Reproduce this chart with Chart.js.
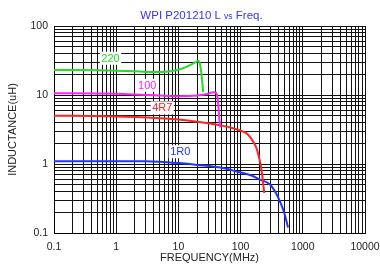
<!DOCTYPE html>
<html>
<head>
<meta charset="utf-8">
<script src="https://cdn.jsdelivr.net/npm/chart.js@4/dist/chart.umd.min.js"></script>
<style>
  html, body { margin: 0; padding: 0; background: #fff; }
  #wrap { width: 380px; height: 278px; }
</style>
</head>
<body>
<div id="wrap"><canvas id="lChart" width="380" height="278"></canvas></div>
<script>
// frequency (MHz) and inductance (uH)
const freq220 = [0.1, 0.5, 1, 2, 3, 5, 8, 12, 16, 19, 21, 22, 23.5, 25];
const ind220  = [23, 22.8, 22.5, 22, 21.6, 21.5, 22.3, 24.5, 27.5, 30, 31, 29, 20, 11];

const freq100 = [0.1, 0.5, 1, 2, 5, 10, 20, 30, 36, 40, 43, 45, 47];
const ind100  = [10.6, 10.5, 10.4, 10.2, 9.8, 9.6, 9.8, 10.4, 11, 10.8, 8.5, 5, 3.4];

const freq4R7 = [0.1, 0.5, 1, 2, 5, 10, 20, 50, 80, 100, 130, 160, 180, 200, 220, 240];
const ind4R7  = [5.0, 4.95, 4.9, 4.8, 4.6, 4.4, 4.1, 3.6, 3.25, 3.05, 2.7, 2.1, 1.7, 1.2, 0.75, 0.38];

const freq1R0 = [0.1, 1, 3, 5, 10, 20, 50, 90, 150, 200, 300, 400, 500, 580];
const ind1R0  = [1.1, 1.1, 1.1, 1.08, 1.03, 0.97, 0.88, 0.77, 0.68, 0.6, 0.5, 0.33, 0.2, 0.12];

const xTicks = [0.1, 1, 10, 100, 1000, 10000];
const yTicks = [0.1, 1, 10, 100];

// curve labels: [text, freq, inductance, colour]
const curveLabels = [
  ['220', 0.81, 33.5, '#22dd22'],
  ['100', 3.16, 13.6, '#ff22ff'],
  ['4R7', 5.5, 6.4, '#ff2222'],
  ['1R0', 10.7, 1.48, '#2233ff']
];

function pts(xs, ys) {
  return xs.map((x, i) => ({ x: x, y: ys[i] }));
}

// all 1..9 multiples between the first and last decade
function logTicks(decades) {
  const out = [];
  for (let i = 0; i < decades.length - 1; i++) {
    for (let m = 1; m < 10; m++) out.push({ value: +(decades[i] * m).toPrecision(3) });
  }
  out.push({ value: decades[decades.length - 1] });
  return out;
}

function isDecade(v, decades) {
  return decades.some(d => Math.abs(d - v) < d * 1e-6);
}

const font = 'Liberation Sans, Arial, sans-serif';

const labelPlugin = {
  id: 'curveLabels',
  afterDatasetsDraw(chart) {
    const ctx = chart.ctx;
    const xs = chart.scales.x, ys = chart.scales.y;
    ctx.save();
    ctx.font = '11px ' + font;
    ctx.textAlign = 'center';
    ctx.textBaseline = 'middle';
    curveLabels.forEach(l => {
      const px = xs.getPixelForValue(l[1]);
      const py = ys.getPixelForValue(l[2]);
      const w = ctx.measureText(l[0]).width + 3;
      ctx.fillStyle = '#fff';
      ctx.fillRect(px - w / 2, py - 7, w, 13);
      ctx.fillStyle = l[3];
      ctx.fillText(l[0], px, py);
    });
    ctx.restore();
  }
};

const titlePlugin = {
  id: 'mixedTitle',
  afterDraw(chart) {
    const ctx = chart.ctx;
    const a = chart.chartArea;
    const parts = [['WPI P201210 L ', 11.5], ['vs', 8.5], [' Freq.', 11.5]];
    ctx.save();
    ctx.fillStyle = '#3333ff';
    ctx.textBaseline = 'alphabetic';
    let total = 0;
    parts.forEach(p => { ctx.font = p[1] + 'px ' + font; total += ctx.measureText(p[0]).width; });
    let x = (a.left + a.right) / 2 - total / 2 - 8;
    parts.forEach(p => {
      ctx.font = p[1] + 'px ' + font;
      ctx.fillText(p[0], x, 19);
      x += ctx.measureText(p[0]).width;
    });
    ctx.restore();
  }
};

function renderChart() {
  const ctx = document.getElementById('lChart').getContext('2d');
  const common = { pointRadius: 0, borderWidth: 2, cubicInterpolationMode: 'monotone', fill: false };
  new Chart(ctx, {
    type: 'line',
    data: {
      datasets: [
        Object.assign({ label: '220', data: pts(freq220, ind220), borderColor: '#22dd22' }, common),
        Object.assign({ label: '100', data: pts(freq100, ind100), borderColor: '#ff22ff' }, common),
        Object.assign({ label: '4R7', data: pts(freq4R7, ind4R7), borderColor: '#ff2222' }, common),
        Object.assign({ label: '1R0', data: pts(freq1R0, ind1R0), borderColor: '#2233ff' }, common)
      ]
    },
    options: {
      responsive: false,
      animation: false,
      layout: { padding: { top: 26, right: 15, bottom: 0, left: 0 } },
      plugins: { legend: { display: false }, tooltip: { enabled: false }, title: { display: false } },
      scales: {
        x: {
          type: 'logarithmic',
          min: 0.1, max: 10000,
          afterBuildTicks: s => { s.ticks = logTicks(xTicks); },
          afterFit: s => { s.height = 45; s.paddingLeft = 0; s.paddingRight = 0; },
          grid: { color: '#111', lineWidth: 1, drawTicks: false },
          border: { color: '#000' },
          ticks: {
            autoSkip: false, maxRotation: 0, padding: 8, color: '#222',
            font: { family: font, size: 10.5 },
            callback: v => isDecade(v, xTicks) ? String(v) : ''
          },
          title: { display: true, text: 'FREQUENCY(MHz)', color: '#222', font: { family: font, size: 11 }, padding: { top: 2, bottom: 13 } }
        },
        y: {
          type: 'logarithmic',
          min: 0.1, max: 100,
          afterBuildTicks: s => { s.ticks = logTicks(yTicks); },
          afterFit: s => { s.width = 54; s.paddingTop = 0; s.paddingBottom = 0; },
          grid: { color: '#111', lineWidth: 1, drawTicks: false },
          border: { color: '#000' },
          ticks: {
            autoSkip: false, padding: 6, color: '#222',
            font: { family: font, size: 10.5 },
            callback: v => isDecade(v, yTicks) ? String(v) : ''
          },
          title: { display: true, text: 'INDUCTANCE(uH)', color: '#222', font: { family: font, size: 11 }, padding: { top: 6, bottom: 0 } }
        }
      }
    },
    plugins: [labelPlugin, titlePlugin]
  });
}

document.addEventListener('DOMContentLoaded', renderChart);
</script>
</body>
</html>
